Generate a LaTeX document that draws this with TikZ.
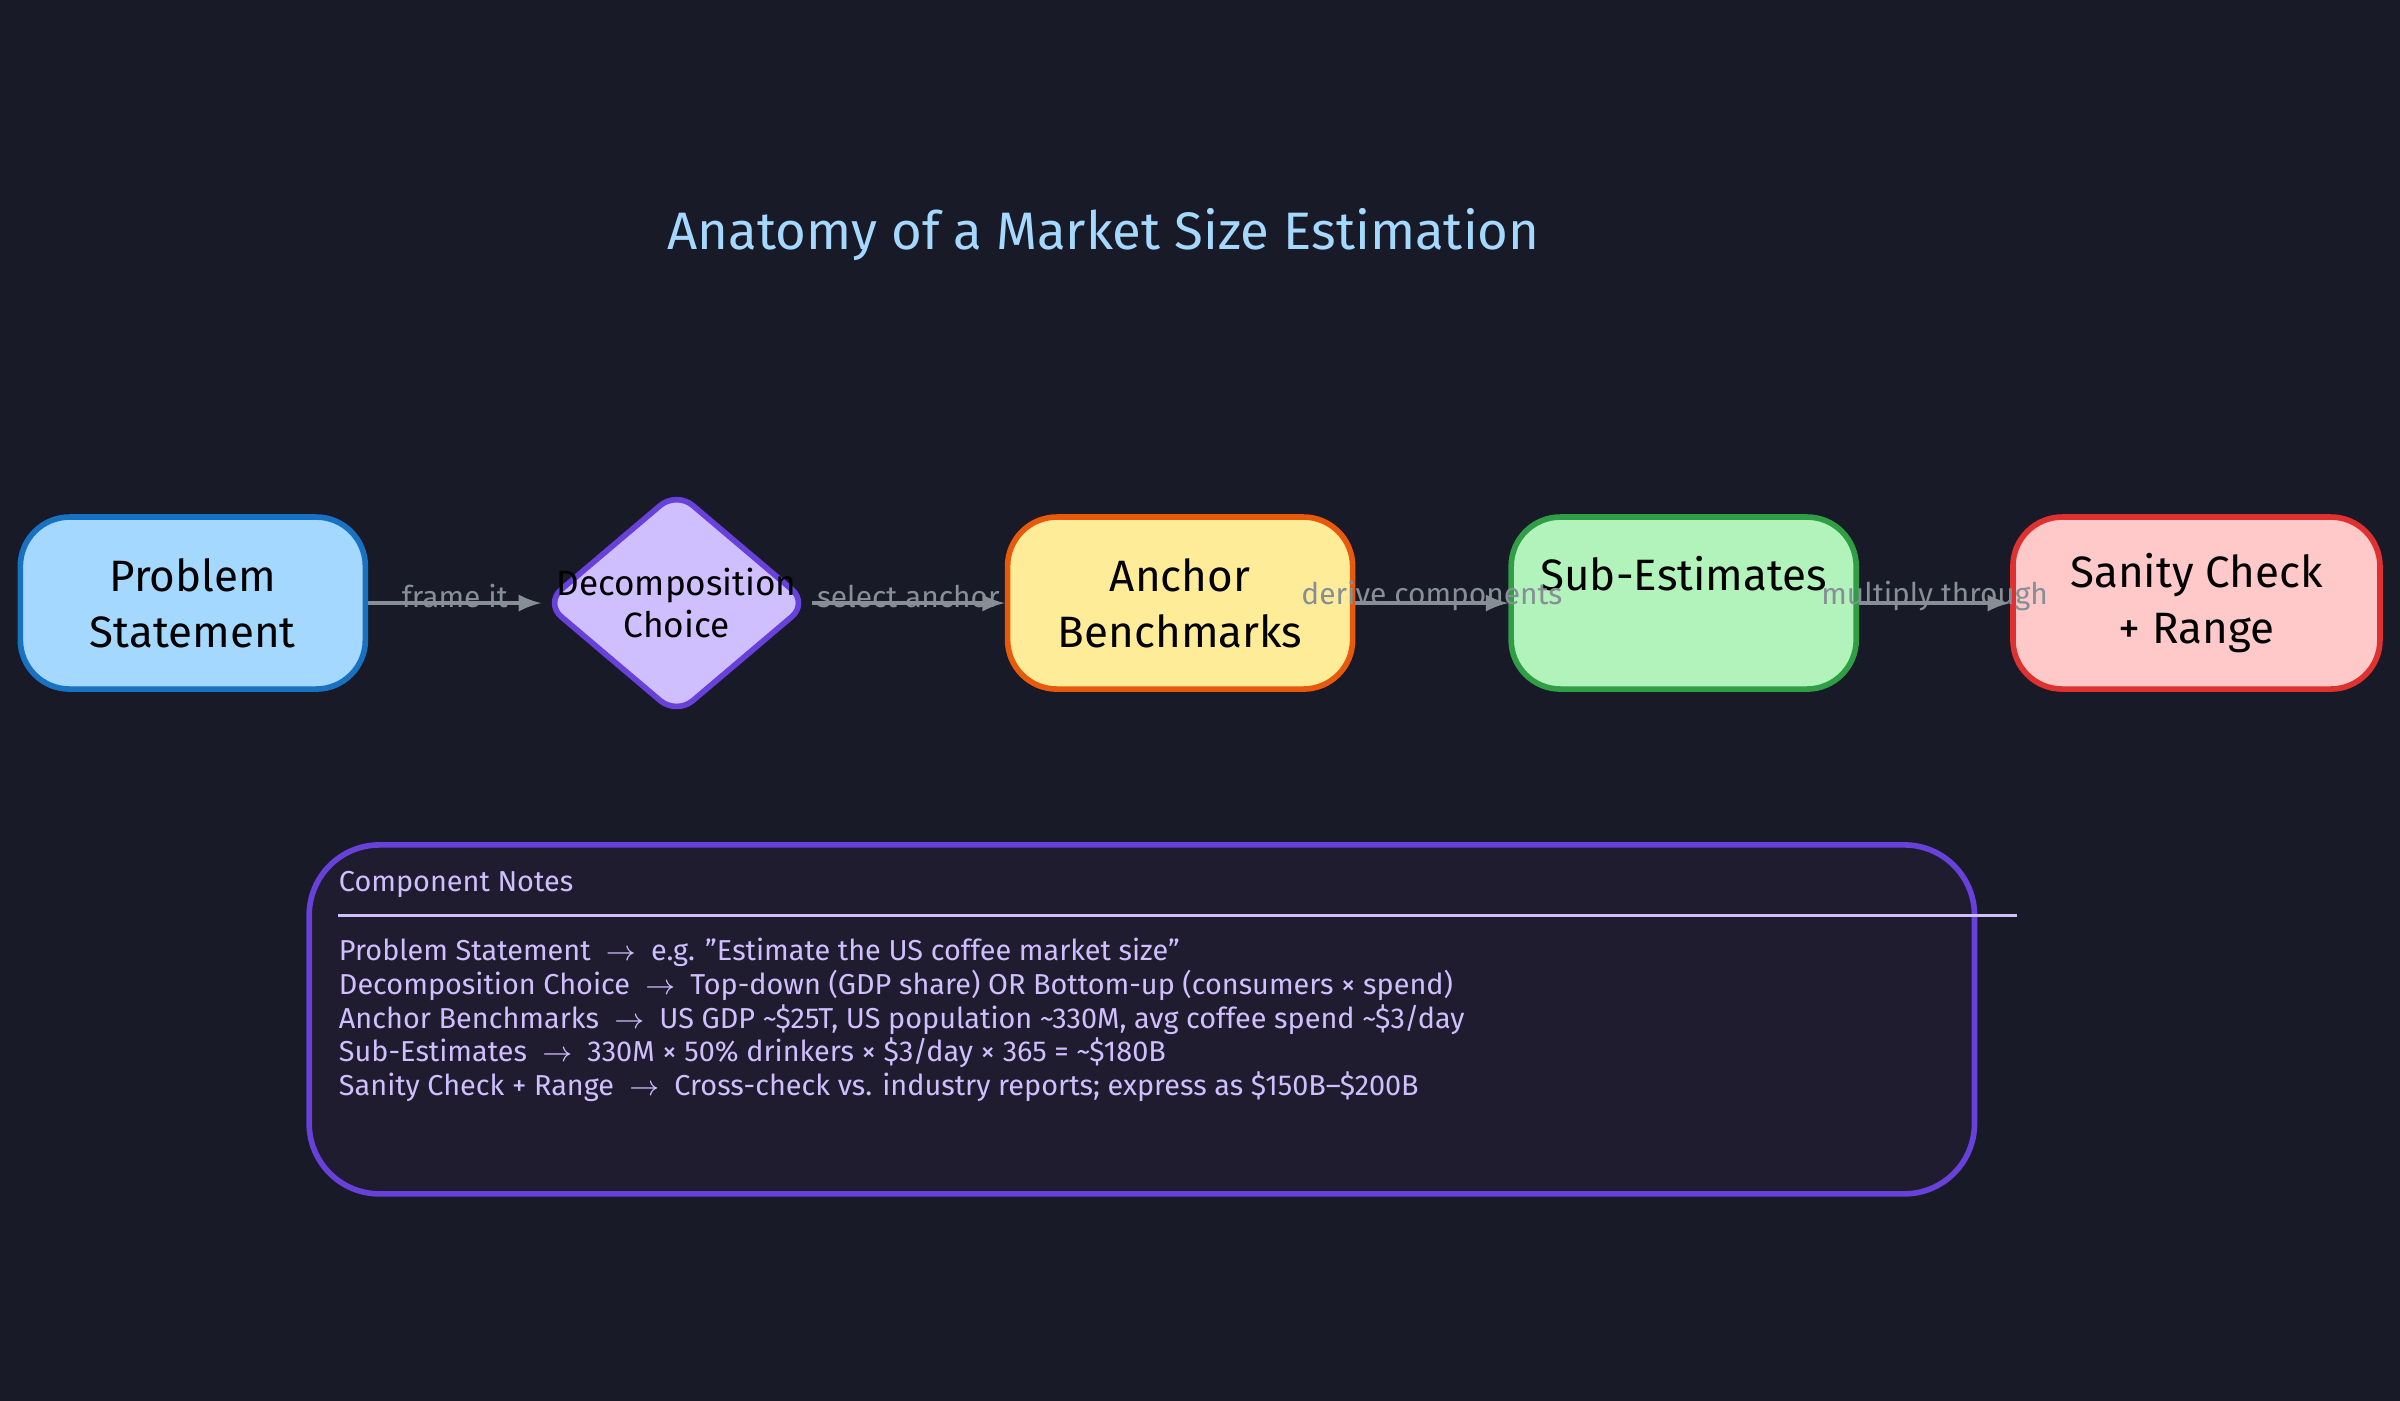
\documentclass[tikz,border=0pt]{standalone}
\usepackage{fontspec}
\setmainfont{Fira Sans}
\usetikzlibrary{shapes.geometric,positioning}
\definecolor{bgc}{HTML}{181A28}
\definecolor{titlec}{HTML}{A5D8FF}
\definecolor{arrc}{HTML}{868E96}
\definecolor{notec}{HTML}{D0BFFF}
\definecolor{noteb}{HTML}{6741D9}
\definecolor{notefill}{HTML}{1E1C2E}
\definecolor{probb}{HTML}{1971C2}
\definecolor{anchb}{HTML}{E8590C}
\definecolor{anchf}{HTML}{FFEC99}
\definecolor{subb}{HTML}{2F9E44}
\definecolor{subf}{HTML}{B2F2BB}
\definecolor{sanb}{HTML}{E03131}
\definecolor{sanf}{HTML}{FFC9C9}
\tikzset{
  step/.style={draw=#1, line width=1.6pt, rounded corners=14pt, minimum width=3.45cm,
    minimum height=1.72cm, align=center, font=\fontsize{12.5}{16}\selectfont, text=black},
  link/.style={draw=arrc, line width=1.2pt, -latex},
  linklabel/.style={text=arrc, font=\fontsize{8.5}{10}\selectfont, inner sep=1pt, yshift=2pt},
  noteline/.style={text=notec, font=\fontsize{8.2}{10}\selectfont, anchor=west, inner sep=0pt}
}
\begin{document}
\begin{tikzpicture}[x=0.01531cm, y=-0.01531cm]
\fill[bgc] (0,0) rectangle (1568,915);
\node[text=titlec, font=\fontsize{15}{18}\selectfont] (title) at (721,153) {Anatomy of a Market Size Estimation};
% flow
\node[step=probb, fill=titlec] (prob) at (126,394) {Problem\\Statement};
\node[diamond, draw=noteb, fill=notec, line width=1.6pt, rounded corners=6pt, aspect=1.17,
  minimum width=2.65cm, minimum height=2.25cm, inner sep=0pt,
  label={[align=center, font=\fontsize{10}{12}\selectfont, text=black]center:Decomposition\\Choice}] (deco) at (442,394) {};
\node[step=anchb, fill=anchf] (anch) at (771,394) {Anchor\\Benchmarks};
\node[step=subb, fill=subf, text depth=0.6cm] (sub) at (1100,394) {Sub-Estimates};
\node[step=sanb, fill=sanf, minimum width=3.67cm] (san) at (1435,394) {Sanity Check\\+ Range};
\draw[link] (prob) -- node[linklabel]{frame it} (deco);
\draw[link] (deco) -- node[linklabel]{select anchor} (anch);
\draw[link] (anch) -- node[linklabel]{derive components} (sub);
\draw[link] (sub) -- node[linklabel]{multiply through} (san);
% notes
\draw[noteb, fill=notefill, line width=1.6pt, rounded corners=20pt] (202,552) rectangle (1290,780);
\node[noteline] (ntitle) at (221,578) {Component Notes};
\draw[notec, line width=0.8pt] (221,598) -- (1318,598);
\node[noteline] (n1) at (221,622) {Problem Statement \ $\rightarrow$ \ e.g. "Estimate the US coffee market size"};
\node[noteline] (n2) at (221,644) {Decomposition Choice \ $\rightarrow$ \ Top-down (GDP share) OR Bottom-up (consumers × spend)};
\node[noteline] (n3) at (221,666) {Anchor Benchmarks \ $\rightarrow$ \ US GDP \textasciitilde\$25T, US population \textasciitilde330M, avg coffee spend \textasciitilde\$3/day};
\node[noteline] (n4) at (221,688) {Sub-Estimates \ $\rightarrow$ \ 330M × 50\% drinkers × \$3/day × 365 = \textasciitilde\$180B};
\node[noteline] (n5) at (221,710) {Sanity Check + Range \ $\rightarrow$ \ Cross-check vs. industry reports; express as \$150B–\$200B};
\end{tikzpicture}
\end{document}
